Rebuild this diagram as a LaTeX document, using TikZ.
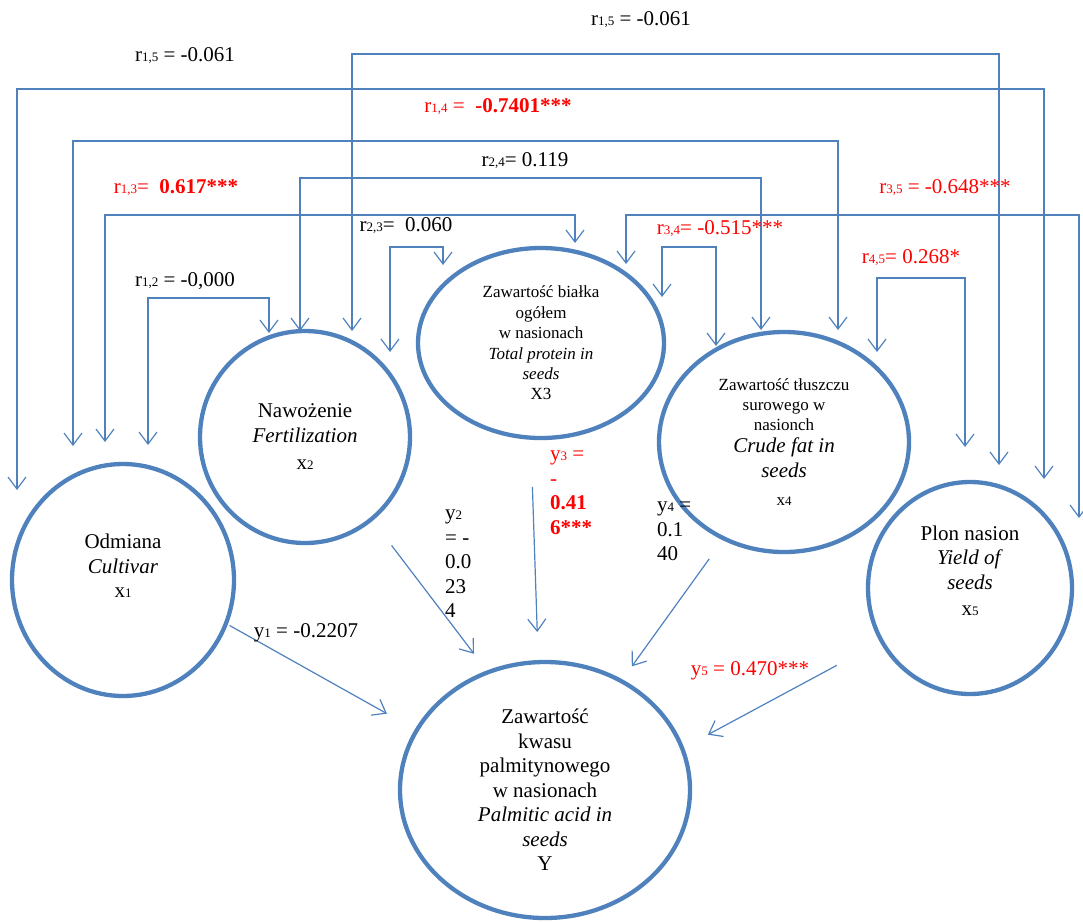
\documentclass[tikz,border=0pt]{standalone}
\usepackage{fontspec}
\setmainfont{Liberation Serif}
\usetikzlibrary{shapes.geometric,arrows.meta}
\definecolor{lineblue}{RGB}{79,129,189}
\newcommand{\ix}[1]{{\fontsize{13}{13}\selectfont #1}}

\begin{document}
\begin{tikzpicture}[x=1pt,y=-1pt,
	var_node/.style={ellipse,draw=lineblue,line width=4.3pt,align=center,inner sep=0pt,font=\fontsize{21}{24.5}\selectfont},
	corr_arrow/.style={draw=lineblue,line width=1.2pt,{Straight Barb[length=12pt,width=18pt]}-{Straight Barb[length=12pt,width=18pt]}},
	path_arrow/.style={draw=lineblue,line width=1.2pt,-{Straight Barb[length=12pt,width=18pt]}},
	coef_text/.style={font=\fontsize{21}{24.5}\selectfont,inner sep=0pt},
	sig_text/.style={coef_text,text=red},
	stack_text/.style={coef_text,align=left,anchor=north west}]

	\useasboundingbox (0,0) rectangle (1083,921);

	\node[var_node,minimum width=222pt,minimum height=232pt] (x1) at (123,580) {Odmiana\\\textit{Cultivar}\\x\ix{1}\\[4pt]\mbox{}};
	\node[var_node,minimum width=210pt,minimum height=212pt] (x2) at (305,437) {Nawożenie\\\textit{Fertilization}\\[3pt]x\ix{2}};
	\node[var_node,minimum width=246pt,minimum height=190pt,font=\fontsize{17}{20.4}\selectfont] (x3) at (541,343) {Zawartość białka\\ogółem\\w nasionach\\\textit{Total protein in}\\\textit{seeds}\\X3};
	\node[var_node,minimum width=250pt,minimum height=220pt,font=\fontsize{17}{20}\selectfont] (x4) at (784,442) {Zawartość tłuszczu\\surowego w\\nasionch\\[2pt]{\fontsize{21}{24.5}\selectfont\itshape Crude fat in}\\[5pt]{\fontsize{21}{24.5}\selectfont\itshape seeds}\\[8pt]x\ix{4}};
	\node[var_node,minimum width=204pt,minimum height=212pt] (x5) at (970,588) {Plon nasion\\\textit{Yield of}\\\textit{seeds}\\[2pt]x\ix{5}\\[10pt]\mbox{}};
	\node[var_node,minimum width=290pt,minimum height=256pt] (y) at (545,790) {Zawartość\\kwasu\\palmitynowego\\w nasionach\\\textit{Palmitic acid in}\\\textit{seeds}\\Y};

	\coordinate (a15) at (17,490);
	\coordinate (b15) at (1044,479);
	\coordinate (a25) at (352,331);
	\coordinate (b25) at (999,465);
	\coordinate (a14) at (73,446);
	\coordinate (b14) at (838,330);
	\coordinate (a24) at (300,331);
	\coordinate (b24) at (761,330);
	\coordinate (a13) at (105,442);
	\coordinate (b13) at (575,243);
	\coordinate (a35) at (626,264);
	\coordinate (b35) at (1079,518);
	\coordinate (a23) at (390,352);
	\coordinate (b23) at (443,265);
	\coordinate (a34) at (662,297);
	\coordinate (b34) at (716,346);
	\coordinate (a12) at (148,445);
	\coordinate (b12) at (269,333);
	\coordinate (a45) at (877,352);
	\coordinate (b45) at (965,447);

	\draw[corr_arrow] (a15) -- (a15 |- 0,89) -| (b15);
	\draw[corr_arrow] (a25) -- (a25 |- 0,54) -| (b25);
	\draw[corr_arrow] (a14) -- (a14 |- 0,141) -| (b14);
	\draw[corr_arrow] (a24) -- (a24 |- 0,178) -| (b24);
	\draw[corr_arrow] (a13) -- (a13 |- 0,215) -| (b13);
	\draw[corr_arrow] (a35) -- (a35 |- 0,215) -| (b35);
	\draw[corr_arrow] (a23) -- (a23 |- 0,247) -| (b23);
	\draw[corr_arrow] (a34) -- (a34 |- 0,247) -| (b34);
	\draw[corr_arrow] (a12) -- (a12 |- 0,298) -| (b12);
	\draw[corr_arrow] (a45) -- (a45 |- 0,278) -| (b45);

	\draw[path_arrow,shorten <=2pt,shorten >=32pt] (x1.-23) -- (y.155);
	\draw[path_arrow,shorten <=31pt,shorten >=21pt] (x2.-51) -- (y.116);
	\draw[path_arrow,shorten <=47pt,shorten >=28pt] (x3.-96) -- (y.93);
	\draw[path_arrow,shorten <=23pt,shorten >=16pt] (x4.-122) -- (y.55);
	\draw[path_arrow,shorten <=49pt,shorten >=27pt] (x5.-149) -- (y.17);

	\node[coef_text] (l25) at (641,20) {r\ix{1,5} = -0.061};
	\node[coef_text] (l15) at (185,56) {r\ix{1,5} = -0.061};
	\node[sig_text] (l14) at (498,107) {r\ix{1,4} =\ \ \textbf{-0.7401***}};
	\node[coef_text] (l24) at (525,161) {r\ix{2,4}= 0.119};
	\node[sig_text] (l13) at (176,188) {r\ix{1,3}=\ \ \textbf{0.617***}};
	\node[sig_text] (l35) at (945,188) {r\ix{3,5} = -0.648***};
	\node[coef_text] (l23) at (406,226) {r\ix{2,3}=\ \ 0.060};
	\node[sig_text] (l34) at (720,229) {r\ix{3,4}= -0.515***};
	\node[coef_text] (l12) at (185,281) {r\ix{1,2} = -0,000};
	\node[sig_text] (l45) at (911,258) {r\ix{4,5}= 0.268*};

	\node[coef_text] (py1) at (306,633) {y\ix{1} = -0.2207};
	\node[stack_text] (py2) at (445,510) {y\ix{2}\\= -\\0.0\\23\\4};
	\node[stack_text,text=red] (py3) at (550,451) {y\ix{3} =\\-\\\textbf{0.41}\\\textbf{6***}};
	\node[stack_text] (py4) at (657,502) {y\ix{4} =\\0.1\\40};
	\node[sig_text] (py5) at (750,671) {y\ix{5} = 0.470***};
\end{tikzpicture}
\end{document}
